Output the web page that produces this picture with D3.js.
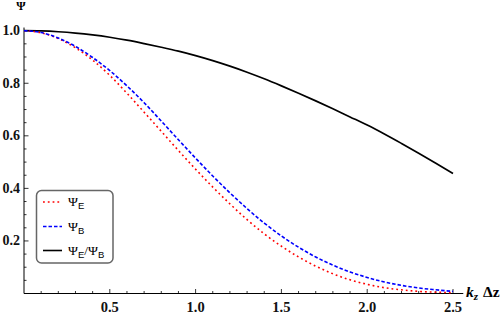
<!DOCTYPE html>
<html>
<head>
<meta charset="utf-8">
<script src="https://cdn.jsdelivr.net/npm/d3@7"></script>
<style>
  html, body { margin: 0; padding: 0; background: #fff; }
  svg { display: block; }
  text { font-family: "Liberation Serif", "DejaVu Serif", serif; }
</style>
</head>
<body>
<svg id="chart" width="504" height="317"></svg>
<script>
// ---- data ----
const kz = [0,0.1,0.2,0.3,0.4,0.5,0.6,0.7,0.8,0.9,1.0,1.1,1.2,1.3,1.4,1.5,1.6,1.7,1.8,1.9,2.0,2.1,2.2,2.3,2.4,2.5];
const psiE = [1.0,0.992,0.970,0.935,0.888,0.830,0.762,0.690,0.617,0.544,0.473,0.405,0.341,0.281,0.227,0.180,0.139,0.104,0.075,0.052,0.035,0.022,0.014,0.008,0.005,0.003];
const psiB = [1.0,0.993,0.972,0.940,0.898,0.848,0.790,0.726,0.656,0.585,0.515,0.447,0.383,0.323,0.268,0.219,0.176,0.139,0.108,0.082,0.061,0.044,0.031,0.021,0.014,0.008];
const ratio = [1.0,0.999,0.996,0.991,0.984,0.975,0.964,0.951,0.937,0.922,0.905,0.886,0.865,0.842,0.817,0.790,0.762,0.733,0.703,0.672,0.641,0.607,0.571,0.534,0.496,0.457];
const xTicks = [0.5,1.0,1.5,2.0,2.5];
const yTicks = [0.2,0.4,0.6,0.8,1.0];

const svg = d3.select("#chart");
const x = d3.scaleLinear().domain([0, 2.5]).range([24, 453]);
const y = d3.scaleLinear().domain([0, 1]).range([293.5, 30.7]);

// ---- axes ----
const axisG = svg.append("g");
axisG.append("line").attr("x1", x(0)).attr("x2", x(2.56)).attr("y1", y(0)).attr("y2", y(0))
  .attr("stroke", "#000").attr("stroke-width", 1);
axisG.append("line").attr("x1", x(0)).attr("x2", x(0)).attr("y1", y(0)).attr("y2", y(1.012))
  .attr("stroke", "#000").attr("stroke-width", 1);

const xMinor = d3.range(1, 26).map(i => i / 10);
axisG.selectAll(".xt").data(xMinor).enter().append("line")
  .attr("x1", d => x(d)).attr("x2", d => x(d))
  .attr("y1", y(0))
  .attr("y2", d => y(0) - (Math.abs(d * 2 - Math.round(d * 2)) < 1e-6 ? 4.5 : 2.5))
  .attr("stroke", "#000").attr("stroke-width", 0.8);
const yMinor = d3.range(1, 21).map(i => i / 20);
axisG.selectAll(".yt").data(yMinor).enter().append("line")
  .attr("y1", d => y(d)).attr("y2", d => y(d))
  .attr("x1", x(0))
  .attr("x2", d => x(0) + (Math.abs(d * 5 - Math.round(d * 5)) < 1e-6 ? 4.5 : 2.5))
  .attr("stroke", "#000").attr("stroke-width", 0.8);

axisG.selectAll(".xl").data(xTicks).enter().append("text")
  .attr("x", d => x(d)).attr("y", 312)
  .attr("text-anchor", "middle").attr("font-size", 14.5).attr("font-weight", "bold")
  .attr("fill", "#111")
  .text(d => d3.format(".1f")(d));
axisG.selectAll(".yl").data(yTicks).enter().append("text")
  .attr("x", 20).attr("y", d => y(d) + 4.5)
  .attr("text-anchor", "end").attr("font-size", 14).attr("font-weight", "bold")
  .attr("fill", "#111")
  .text(d => d3.format(".1f")(d));

// axis titles
svg.append("text").attr("x", 21).attr("y", 10).attr("text-anchor", "middle")
  .attr("font-size", 12).attr("font-weight", "bold").text("Ψ");
const xt = svg.append("text").attr("x", 466).attr("y", 297).attr("font-size", 15.5).attr("font-weight", "bold");
xt.append("tspan").attr("font-style", "italic").text("k");
xt.append("tspan").attr("font-style", "italic").attr("font-size", 11).attr("dy", 3).text("z");
xt.append("tspan").attr("dy", -3).attr("dx", 5).text("Δz");

// ---- curves ----
const pts = arr => kz.map((k, i) => [k, arr[i]]);
const line = d3.line().x(d => x(d[0])).y(d => y(d[1])).curve(d3.curveMonotoneX);
svg.append("path").datum(pts(ratio)).attr("d", line)
  .attr("fill", "none").attr("stroke", "#000").attr("stroke-width", 1.7);
svg.append("path").datum(pts(psiE)).attr("d", line)
  .attr("fill", "none").attr("stroke", "#ff0000").attr("stroke-width", 1.6)
  .attr("stroke-dasharray", "1.8,3");
svg.append("path").datum(pts(psiB)).attr("d", line)
  .attr("fill", "none").attr("stroke", "#0000ff").attr("stroke-width", 1.6)
  .attr("stroke-dasharray", "3.5,2");

// ---- legend ----
const lg = svg.append("g");
lg.append("rect").attr("x", 36.5).attr("y", 190.5).attr("width", 76.5).attr("height", 72.5)
  .attr("rx", 5).attr("ry", 5).attr("fill", "#fff").attr("stroke", "#666").attr("stroke-width", 1.5);
const items = [
  {sub: "E", color: "#ff0000", dash: "1.8,3", yy: 202, ratio: false},
  {sub: "B", color: "#0000ff", dash: "3.5,2", yy: 226.5, ratio: false},
  {sub: "E", color: "#000", dash: null, yy: 250.5, ratio: true}
];
items.forEach(it => {
  lg.append("line").attr("x1", 43).attr("x2", 62).attr("y1", it.yy).attr("y2", it.yy)
    .attr("stroke", it.color).attr("stroke-width", 1.6)
    .attr("stroke-dasharray", it.dash);
  const t = lg.append("text").attr("x", 68).attr("y", it.yy + 4).attr("font-size", 13.5);
  t.append("tspan").text("Ψ");
  t.append("tspan").attr("font-family", "Liberation Sans, sans-serif").attr("font-size", 9.5).attr("dy", 3).text(it.sub);
  if (it.ratio) {
    t.append("tspan").attr("dy", -3).text("/Ψ");
    t.append("tspan").attr("font-family", "Liberation Sans, sans-serif").attr("font-size", 9.5).attr("dy", 3).text("B");
  }
});
</script>
</body>
</html>
